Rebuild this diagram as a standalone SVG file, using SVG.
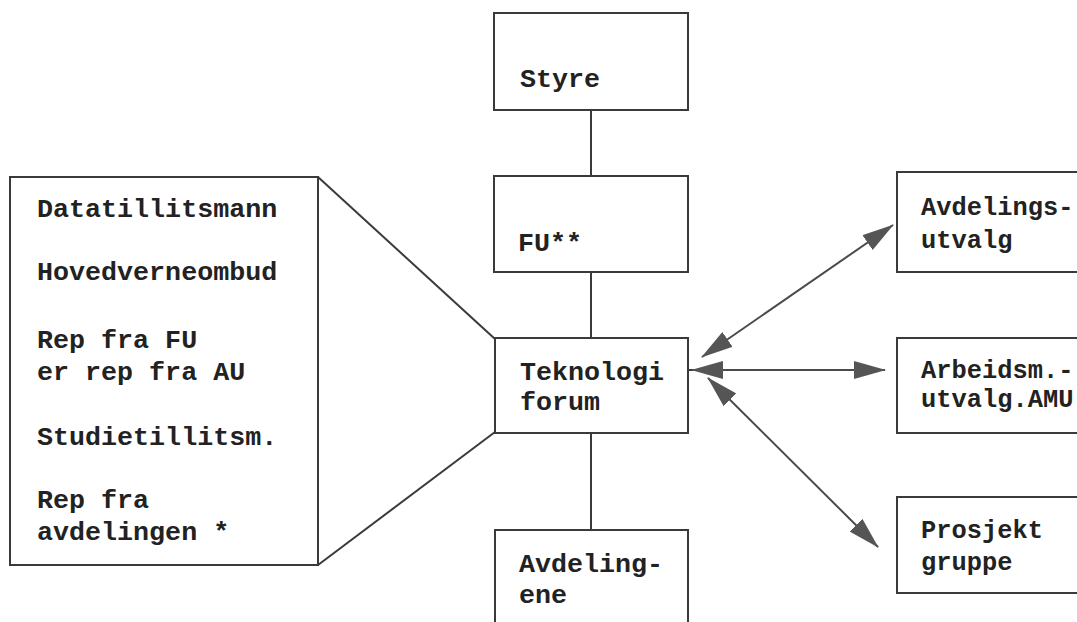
<svg xmlns="http://www.w3.org/2000/svg" width="1077" height="622" viewBox="0 0 1077 622">
  <style>
    .box { fill: #ffffff; stroke: #3a3a3a; stroke-width: 2; }
    .link { stroke: #3a3a3a; stroke-width: 2; fill: none; }
    .arrow { stroke: #4a4a4a; stroke-width: 2; fill: none; marker-start: url(#head); marker-end: url(#head); }
    .label { font-family: "Liberation Mono", "Courier New", monospace; font-weight: bold; font-size: 26.7px; fill: #222222; }
    .side { font-size: 25.4px; }
  </style>
  <defs>
    <marker id="head" viewBox="0 0 32 18" refX="31" refY="9" markerWidth="32" markerHeight="18" markerUnits="userSpaceOnUse" orient="auto-start-reverse">
      <path d="M0,0 L32,9 L0,18 Z" fill="#555555"/>
    </marker>
  </defs>
  <rect width="1077" height="622" fill="#ffffff"/>

  <!-- connectors -->
  <g id="connectors">
    <line class="link" x1="591" y1="110" x2="591" y2="176"/>
    <line class="link" x1="591" y1="272" x2="591" y2="338"/>
    <line class="link" x1="591" y1="433" x2="591" y2="530"/>
    <line class="link" x1="318" y1="177" x2="495" y2="339"/>
    <line class="link" x1="318" y1="565" x2="495" y2="432"/>
    <line class="link" x1="688" y1="370" x2="692" y2="370"/>
    <line class="arrow" x1="702" y1="357" x2="893" y2="225"/>
    <line class="arrow" x1="692" y1="370" x2="885" y2="370"/>
    <line class="arrow" x1="708" y1="378" x2="878" y2="547"/>
  </g>

  <g id="members">
    <rect class="box" x="10" y="177" width="308" height="388"/>
    <text class="label" x="37" y="217">Datatillitsmann</text>
    <text class="label" x="37" y="280">Hovedverneombud</text>
    <text class="label" x="37" y="348">Rep fra FU</text>
    <text class="label" x="37" y="380">er rep fra AU</text>
    <text class="label" x="37" y="445">Studietillitsm.</text>
    <text class="label" x="37" y="508">Rep fra</text>
    <text class="label" x="37" y="540">avdelingen *</text>
  </g>

  <g id="styre">
    <rect class="box" x="494" y="13" width="194" height="97"/>
    <text class="label" x="520" y="87">Styre</text>
  </g>

  <g id="fu">
    <rect class="box" x="494" y="176" width="194" height="96"/>
    <text class="label" x="518" y="251">FU**</text>
  </g>

  <g id="teknologiforum">
    <rect class="box" x="495" y="338" width="193" height="95"/>
    <text class="label" x="520" y="380">Teknologi</text>
    <text class="label" x="520" y="410">forum</text>
  </g>

  <g id="avdelingene">
    <rect class="box" x="495" y="530" width="193" height="110"/>
    <text class="label" x="519" y="572">Avdeling-</text>
    <text class="label" x="519" y="603">ene</text>
  </g>

  <g id="avdelingsutvalg">
    <rect class="box" x="897" y="172" width="200" height="100"/>
    <text class="label side" x="921" y="215">Avdelings-</text>
    <text class="label side" x="921" y="248">utvalg</text>
  </g>

  <g id="amu">
    <rect class="box" x="897" y="338" width="200" height="95"/>
    <text class="label side" x="921" y="378">Arbeidsm.-</text>
    <text class="label side" x="921" y="407">utvalg.AMU</text>
  </g>

  <g id="prosjektgruppe">
    <rect class="box" x="897" y="497" width="200" height="96"/>
    <text class="label side" x="921" y="538">Prosjekt</text>
    <text class="label side" x="921" y="570">gruppe</text>
  </g>
</svg>
